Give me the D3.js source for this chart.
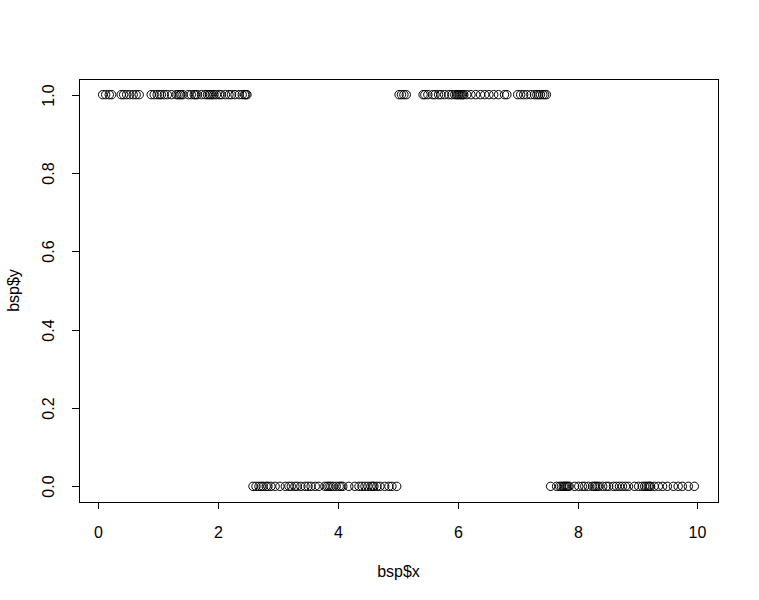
<!DOCTYPE html>
<html><head><meta charset="utf-8">
<script src="https://cdn.jsdelivr.net/npm/d3@7"></script>
<style>body{margin:0;background:#fff}svg{display:block}</style>
</head><body>
<script>
const xOnesA = [0.07,0.12,0.18,0.22,0.38,0.42,0.47,0.52,0.58,0.63,0.68,0.88,0.93,0.98,1.02,1.05,1.1,1.15,1.22,1.3,1.33,1.36,1.38,1.41,1.5,1.55,1.6,1.62,1.65,1.72,1.78,1.82,1.85,1.87,1.9,1.93,1.97,2.02,2.05,2.12,2.18,2.22,2.28,2.35,2.4,2.44,2.46,2.48];
const xZerosB = [2.58,2.63,2.68,2.72,2.75,2.8,2.83,2.88,2.95,3.03,3.12,3.18,3.22,3.28,3.32,3.38,3.45,3.5,3.55,3.62,3.68,3.78,3.82,3.85,3.88,3.92,3.97,4.02,4.05,4.08,4.18,4.28,4.35,4.4,4.45,4.5,4.55,4.58,4.6,4.65,4.7,4.78,4.85,4.9,4.98];
const xOnesC = [5.02,5.06,5.1,5.14,5.42,5.45,5.5,5.58,5.62,5.68,5.72,5.78,5.85,5.9,5.95,5.98,6.0,6.02,6.04,6.06,6.08,6.1,6.15,6.22,6.3,6.38,6.45,6.52,6.6,6.68,6.78,6.82,7.0,7.05,7.1,7.15,7.22,7.28,7.32,7.35,7.38,7.42,7.45,7.48];
const xZerosD = [7.55,7.65,7.7,7.73,7.76,7.78,7.8,7.82,7.84,7.86,7.95,8.02,8.08,8.12,8.18,8.25,8.28,8.3,8.33,8.36,8.42,8.48,8.52,8.6,8.65,8.7,8.75,8.8,8.85,8.95,9.02,9.08,9.12,9.15,9.18,9.2,9.22,9.28,9.35,9.42,9.5,9.6,9.68,9.75,9.85,9.95];
const xTicks = [0,2,4,6,8,10];
const yTicks = [0,0.2,0.4,0.6,0.8,1.0];
const xLabel = "bsp$x", yLabel = "bsp$y";

const points = [];
xOnesA.forEach(x=>points.push({x,y:1}));
xZerosB.forEach(x=>points.push({x,y:0}));
xOnesC.forEach(x=>points.push({x,y:1}));
xZerosD.forEach(x=>points.push({x,y:0}));

const W=759,H=600, L=79, R=718, T=79, B=502;
const svg=d3.select("body").append("svg").attr("width",W).attr("height",H);
const xmin=d3.min(points,d=>d.x), xmax=d3.max(points,d=>d.x), xr=xmax-xmin;
const x=d3.scaleLinear().domain([xmin-0.04*xr,xmax+0.04*xr]).range([L,R]);
const y=d3.scaleLinear().domain([-0.04,1.04]).range([B,T]);
const font="'Liberation Sans', Arial, sans-serif";

svg.append("rect").attr("x",L+0.5).attr("y",T+0.5).attr("width",R-L).attr("height",B-T)
  .attr("fill","none").attr("stroke","#000").attr("stroke-width",1);

// x axis
const gx=svg.append("g");
gx.append("line").attr("x1",Math.round(x(0))+0.5).attr("x2",Math.round(x(10))+0.5).attr("y1",B+0.5).attr("y2",B+0.5).attr("stroke","#000");
xTicks.forEach(t=>{
  const px=Math.round(x(t))+0.5;
  gx.append("line").attr("x1",px).attr("x2",px).attr("y1",B).attr("y2",B+7).attr("stroke","#000");
  gx.append("text").attr("x",px).attr("y",538).attr("text-anchor","middle").attr("font-family",font).attr("font-size",16).text(t);
});
svg.append("text").attr("x",(L+R)/2).attr("y",577).attr("text-anchor","middle").attr("font-family",font).attr("font-size",16).text(xLabel);

// y axis
const gy=svg.append("g");
gy.append("line").attr("x1",L+0.5).attr("x2",L+0.5).attr("y1",Math.round(y(0))+0.5).attr("y2",Math.round(y(1))+0.5).attr("stroke","#000");
yTicks.forEach(t=>{
  const py=Math.round(y(t))+0.5;
  gy.append("line").attr("x1",L-7).attr("x2",L).attr("y1",py).attr("y2",py).attr("stroke","#000");
  gy.append("text").attr("transform",`translate(54,${py}) rotate(-90)`).attr("text-anchor","middle").attr("font-family",font).attr("font-size",16).text(t.toFixed(1));
});
svg.append("text").attr("transform",`translate(19,${(T+B)/2}) rotate(-90)`).attr("text-anchor","middle").attr("font-family",font).attr("font-size",16).text(yLabel);

svg.append("g").selectAll("circle").data(points).join("circle")
  .attr("cx",d=>x(d.x)).attr("cy",d=>y(d.y)).attr("r",4.2)
  .attr("fill","none").attr("stroke","#000").attr("stroke-width",1);
</script>
</body></html>
